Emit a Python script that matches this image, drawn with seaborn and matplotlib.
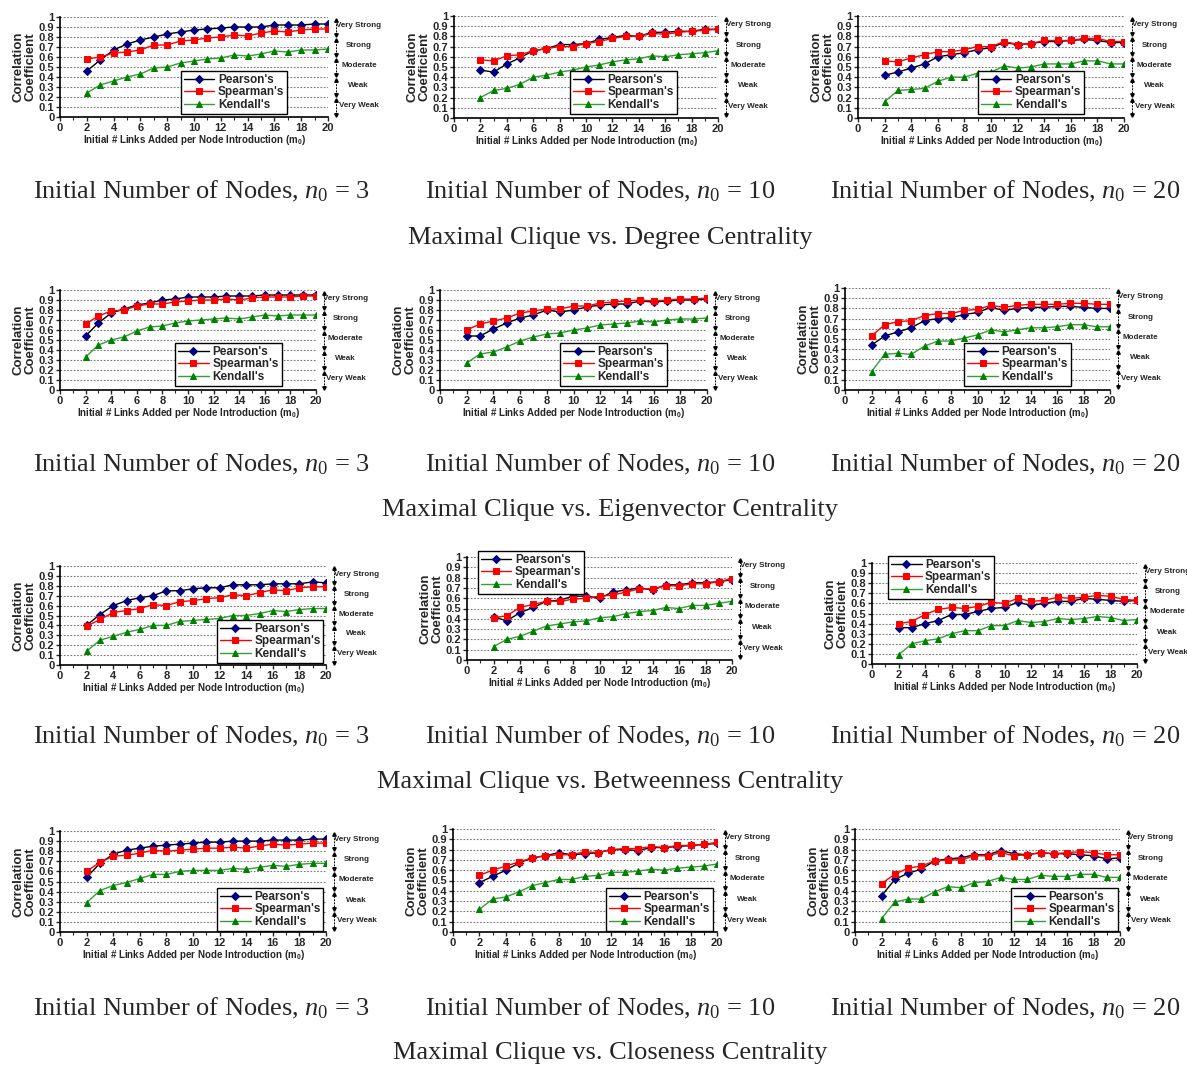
#!/usr/bin/env python3
"""
Maximal clique vs. centrality correlation panels (4 rows x 3 initial node counts)
"""

import matplotlib.pyplot as plt
import matplotlib.transforms as mtransforms
import seaborn as sns

sns.set_style("white")
plt.rcParams['font.family'] = ['Liberation Sans', 'DejaVu Sans']
plt.rcParams['mathtext.fontset'] = 'custom'
plt.rcParams['mathtext.rm'] = 'Liberation Serif'
plt.rcParams['mathtext.it'] = 'Liberation Serif:italic'
plt.rcParams['mathtext.bf'] = 'Liberation Sans:bold'

# ---- data ----
m0 = list(range(2, 21))
n0_values = [3, 10, 20]
centralities = ['Degree', 'Eigenvector', 'Betweenness', 'Closeness']
series_names = ["Pearson's", "Spearman's", "Kendall's"]
ytick_values = [0, 0.1, 0.2, 0.3, 0.4, 0.5, 0.6, 0.7, 0.8, 0.9, 1.0]
ytick_labels = ['0', '0.1', '0.2', '0.3', '0.4', '0.5', '0.6', '0.7', '0.8', '0.9', '1']
strength_labels = ['Very Weak', 'Weak', 'Moderate', 'Strong', 'Very Strong']
strength_bounds = [0.0, 0.2, 0.4, 0.6, 0.8, 1.0]

# Degree centrality
degree_n3_pearson = [0.46, 0.57, 0.67, 0.73, 0.77, 0.80, 0.83, 0.85, 0.87, 0.88, 0.89, 0.90, 0.90, 0.90, 0.92, 0.92, 0.92, 0.93, 0.93]
degree_n3_spearman = [0.58, 0.60, 0.64, 0.65, 0.67, 0.72, 0.72, 0.76, 0.77, 0.79, 0.80, 0.82, 0.81, 0.84, 0.86, 0.85, 0.87, 0.88, 0.88]
degree_n3_kendall = [0.24, 0.32, 0.36, 0.40, 0.43, 0.49, 0.50, 0.54, 0.56, 0.58, 0.59, 0.62, 0.61, 0.63, 0.66, 0.65, 0.67, 0.67, 0.68]
degree_n10_pearson = [0.47, 0.45, 0.53, 0.59, 0.66, 0.68, 0.72, 0.72, 0.73, 0.77, 0.79, 0.81, 0.80, 0.84, 0.84, 0.85, 0.85, 0.87, 0.87]
degree_n10_spearman = [0.57, 0.56, 0.61, 0.62, 0.66, 0.68, 0.70, 0.70, 0.73, 0.75, 0.78, 0.80, 0.80, 0.83, 0.82, 0.84, 0.85, 0.86, 0.87]
degree_n10_kendall = [0.20, 0.27, 0.29, 0.33, 0.40, 0.42, 0.45, 0.47, 0.50, 0.52, 0.55, 0.57, 0.58, 0.61, 0.60, 0.62, 0.63, 0.64, 0.66]
degree_n20_pearson = [0.42, 0.45, 0.49, 0.53, 0.60, 0.62, 0.64, 0.67, 0.69, 0.74, 0.72, 0.73, 0.75, 0.75, 0.76, 0.77, 0.76, 0.74, 0.74]
degree_n20_spearman = [0.56, 0.55, 0.59, 0.62, 0.65, 0.65, 0.67, 0.70, 0.70, 0.75, 0.72, 0.73, 0.76, 0.76, 0.76, 0.78, 0.78, 0.75, 0.75]
degree_n20_kendall = [0.16, 0.27, 0.28, 0.29, 0.36, 0.40, 0.40, 0.44, 0.45, 0.51, 0.49, 0.50, 0.53, 0.53, 0.53, 0.56, 0.56, 0.53, 0.53]

# Eigenvector centrality
eigen_n3_pearson = [0.54, 0.67, 0.77, 0.81, 0.85, 0.87, 0.90, 0.91, 0.93, 0.93, 0.93, 0.94, 0.94, 0.94, 0.95, 0.95, 0.95, 0.95, 0.95]
eigen_n3_spearman = [0.66, 0.74, 0.79, 0.80, 0.84, 0.86, 0.86, 0.88, 0.89, 0.90, 0.90, 0.91, 0.90, 0.92, 0.93, 0.93, 0.93, 0.94, 0.94]
eigen_n3_kendall = [0.33, 0.45, 0.50, 0.53, 0.59, 0.63, 0.64, 0.67, 0.69, 0.70, 0.71, 0.72, 0.71, 0.73, 0.75, 0.74, 0.75, 0.75, 0.75]
eigen_n10_pearson = [0.54, 0.54, 0.61, 0.67, 0.72, 0.75, 0.80, 0.78, 0.80, 0.83, 0.85, 0.86, 0.86, 0.89, 0.88, 0.89, 0.90, 0.90, 0.91]
eigen_n10_spearman = [0.60, 0.66, 0.69, 0.72, 0.77, 0.79, 0.81, 0.81, 0.84, 0.84, 0.87, 0.88, 0.89, 0.90, 0.89, 0.90, 0.91, 0.91, 0.92]
eigen_n10_kendall = [0.27, 0.36, 0.38, 0.43, 0.49, 0.53, 0.56, 0.57, 0.60, 0.62, 0.65, 0.66, 0.67, 0.69, 0.68, 0.70, 0.71, 0.71, 0.72]
eigen_n20_pearson = [0.44, 0.53, 0.57, 0.61, 0.68, 0.70, 0.71, 0.74, 0.76, 0.81, 0.78, 0.80, 0.81, 0.81, 0.82, 0.82, 0.81, 0.80, 0.80]
eigen_n20_spearman = [0.53, 0.64, 0.67, 0.68, 0.73, 0.75, 0.75, 0.78, 0.79, 0.83, 0.81, 0.83, 0.84, 0.84, 0.84, 0.85, 0.85, 0.84, 0.84]
eigen_n20_kendall = [0.18, 0.35, 0.36, 0.35, 0.43, 0.48, 0.48, 0.51, 0.54, 0.59, 0.57, 0.59, 0.61, 0.61, 0.62, 0.64, 0.64, 0.62, 0.62]

# Betweenness centrality
betw_n3_pearson = [0.40, 0.51, 0.60, 0.65, 0.68, 0.70, 0.75, 0.75, 0.77, 0.78, 0.78, 0.81, 0.81, 0.81, 0.82, 0.82, 0.82, 0.84, 0.83]
betw_n3_spearman = [0.39, 0.46, 0.53, 0.55, 0.57, 0.61, 0.60, 0.64, 0.65, 0.67, 0.68, 0.71, 0.70, 0.73, 0.76, 0.75, 0.78, 0.79, 0.79]
betw_n3_kendall = [0.14, 0.25, 0.29, 0.33, 0.36, 0.40, 0.40, 0.44, 0.45, 0.46, 0.47, 0.50, 0.50, 0.52, 0.55, 0.54, 0.56, 0.57, 0.57]
betw_n10_pearson = [0.42, 0.38, 0.46, 0.51, 0.57, 0.58, 0.62, 0.62, 0.60, 0.66, 0.68, 0.70, 0.68, 0.73, 0.73, 0.75, 0.75, 0.76, 0.78]
betw_n10_spearman = [0.41, 0.43, 0.51, 0.54, 0.57, 0.57, 0.59, 0.60, 0.62, 0.63, 0.66, 0.69, 0.69, 0.72, 0.72, 0.74, 0.74, 0.76, 0.79]
betw_n10_kendall = [0.13, 0.20, 0.23, 0.28, 0.33, 0.35, 0.37, 0.38, 0.41, 0.42, 0.45, 0.47, 0.48, 0.51, 0.50, 0.53, 0.53, 0.55, 0.57]
betw_n20_pearson = [0.36, 0.36, 0.40, 0.43, 0.49, 0.49, 0.52, 0.55, 0.56, 0.61, 0.58, 0.60, 0.62, 0.62, 0.65, 0.64, 0.63, 0.62, 0.63]
betw_n20_spearman = [0.40, 0.42, 0.49, 0.54, 0.56, 0.55, 0.57, 0.61, 0.60, 0.65, 0.62, 0.63, 0.66, 0.65, 0.66, 0.68, 0.67, 0.64, 0.63]
betw_n20_kendall = [0.09, 0.20, 0.23, 0.25, 0.30, 0.33, 0.33, 0.38, 0.38, 0.43, 0.41, 0.42, 0.45, 0.44, 0.45, 0.47, 0.46, 0.43, 0.44]

# Closeness centrality
close_n3_pearson = [0.54, 0.68, 0.77, 0.81, 0.83, 0.85, 0.86, 0.87, 0.88, 0.89, 0.89, 0.90, 0.90, 0.90, 0.91, 0.91, 0.91, 0.92, 0.92]
close_n3_spearman = [0.60, 0.69, 0.75, 0.76, 0.78, 0.81, 0.80, 0.81, 0.82, 0.83, 0.83, 0.84, 0.83, 0.85, 0.87, 0.86, 0.87, 0.88, 0.88]
close_n3_kendall = [0.29, 0.41, 0.46, 0.49, 0.53, 0.57, 0.57, 0.60, 0.61, 0.61, 0.61, 0.63, 0.62, 0.64, 0.66, 0.65, 0.67, 0.68, 0.68]
close_n10_pearson = [0.48, 0.54, 0.60, 0.67, 0.72, 0.74, 0.77, 0.75, 0.76, 0.77, 0.80, 0.80, 0.79, 0.82, 0.82, 0.83, 0.84, 0.85, 0.86]
close_n10_spearman = [0.55, 0.60, 0.64, 0.68, 0.72, 0.74, 0.75, 0.75, 0.78, 0.77, 0.80, 0.81, 0.81, 0.83, 0.82, 0.84, 0.84, 0.85, 0.87]
close_n10_kendall = [0.22, 0.32, 0.34, 0.39, 0.45, 0.48, 0.51, 0.51, 0.54, 0.55, 0.58, 0.58, 0.59, 0.61, 0.60, 0.62, 0.63, 0.64, 0.66]
close_n20_pearson = [0.35, 0.51, 0.57, 0.61, 0.69, 0.71, 0.72, 0.75, 0.75, 0.79, 0.76, 0.75, 0.77, 0.76, 0.76, 0.75, 0.74, 0.71, 0.72]
close_n20_spearman = [0.47, 0.56, 0.62, 0.64, 0.69, 0.70, 0.70, 0.74, 0.74, 0.77, 0.74, 0.75, 0.77, 0.76, 0.77, 0.78, 0.77, 0.75, 0.75]
close_n20_kendall = [0.13, 0.29, 0.32, 0.32, 0.39, 0.44, 0.43, 0.48, 0.49, 0.53, 0.51, 0.51, 0.55, 0.54, 0.54, 0.56, 0.56, 0.53, 0.53]

panel_data = [
    [(degree_n3_pearson, degree_n3_spearman, degree_n3_kendall),
     (degree_n10_pearson, degree_n10_spearman, degree_n10_kendall),
     (degree_n20_pearson, degree_n20_spearman, degree_n20_kendall)],
    [(eigen_n3_pearson, eigen_n3_spearman, eigen_n3_kendall),
     (eigen_n10_pearson, eigen_n10_spearman, eigen_n10_kendall),
     (eigen_n20_pearson, eigen_n20_spearman, eigen_n20_kendall)],
    [(betw_n3_pearson, betw_n3_spearman, betw_n3_kendall),
     (betw_n10_pearson, betw_n10_spearman, betw_n10_kendall),
     (betw_n20_pearson, betw_n20_spearman, betw_n20_kendall)],
    [(close_n3_pearson, close_n3_spearman, close_n3_kendall),
     (close_n10_pearson, close_n10_spearman, close_n10_kendall),
     (close_n20_pearson, close_n20_spearman, close_n20_kendall)],
]

# ---- layout (pixels: left, right, top, bottom of each plot area) ----
W, H = 1187, 1066
panel_boxes = [
    [(60, 328, 17, 117), (454, 718, 16, 118), (858, 1124, 16, 118)],
    [(60, 316, 290, 390), (440, 707, 290, 390), (845, 1110, 288, 390)],
    [(60, 326, 566, 665), (467, 732, 557, 660), (872, 1137, 563, 664)],
    [(60, 326, 831, 932), (453, 717, 829, 932), (855, 1120, 829, 932)],
]
legend_pos = [
    [('lower left', (0.45, 0.03)), ('lower left', (0.44, 0.04)), ('lower left', (0.45, 0.04))],
    [('lower left', (0.45, 0.04)), ('lower left', (0.45, 0.04)), ('lower left', (0.45, 0.04))],
    [('lower left', (0.59, 0.02)), ('upper left', (0.04, 1.06)), ('upper left', (0.06, 1.07))],
    [('lower left', (0.59, 0.01)), ('lower left', (0.58, 0.01)), ('lower left', (0.59, 0.01))],
]
caption_x = [201, 600, 1005]
caption_y = [191, 464, 736, 1008]
title_y = [238, 510, 782, 1053]

styles = [
    dict(color='black', marker='D', markersize=4, markerfacecolor='#000080', markeredgecolor='#000080'),
    dict(color='#ff0000', marker='s', markersize=5, markerfacecolor='#ff0000', markeredgecolor='#ff0000'),
    dict(color='#33a033', marker='^', markersize=5, markerfacecolor='#008000', markeredgecolor='#008000'),
]


def draw_panel(ax, series, loc, anchor):
    for name, values, st in zip(series_names, series, styles):
        sns.lineplot(x=m0, y=values, ax=ax, lw=1.0, label=name, **st)

    ax.set_xlim(0, 20)
    ax.set_ylim(0, 1)
    ax.set_xticks(range(0, 21, 2))
    ax.set_xticks(range(0, 21), minor=True)
    ax.set_yticks(ytick_values)
    ax.set_yticklabels(ytick_labels)
    ax.tick_params(axis='both', which='major', direction='out', length=3, width=1,
                   labelsize=8, pad=1, left=True, bottom=True)
    ax.tick_params(axis='x', which='minor', direction='out', length=2, width=0.8, bottom=True)
    for lab in ax.get_xticklabels() + ax.get_yticklabels():
        lab.set_fontweight('bold')

    ax.yaxis.grid(True, color='#777777', linestyle=(0, (1.5, 1.5)), linewidth=0.8)
    ax.xaxis.grid(False)
    sns.despine(ax=ax)
    for side in ['left', 'bottom']:
        ax.spines[side].set_color('black')
        ax.spines[side].set_linewidth(1.2)

    ax.set_ylabel('Correlation\nCoefficient', fontsize=9.5, fontweight='bold', labelpad=2,
                  linespacing=1.0)
    ax.set_xlabel(r'Initial # Links Added per Node Introduction (m$_\mathbf{0}$)',
                  fontsize=7, fontweight='bold', labelpad=0)

    # strength bands on the right
    trans = mtransforms.blended_transform_factory(ax.transAxes, ax.transData)
    for lo, hi, lab in zip(strength_bounds[:-1], strength_bounds[1:], strength_labels):
        ax.plot([1.03, 1.03], [lo + 0.02, hi - 0.02], transform=trans, clip_on=False,
                color='black', lw=0.7, ls=(0, (2, 1.2)))
        ax.plot([1.03], [hi - 0.025], transform=trans, clip_on=False, marker='^',
                ms=2.5, color='black', lw=0)
        ax.plot([1.03], [lo + 0.025], transform=trans, clip_on=False, marker='v',
                ms=2.5, color='black', lw=0)
        ax.text(1.115, (lo + hi) / 2 + 0.015, lab, transform=trans, ha='center', va='center',
                fontsize=5.8, fontweight='bold', clip_on=False)

    handles, labels = ax.get_legend_handles_labels()
    leg = ax.legend(handles[:3], labels[:3], loc=loc, bbox_to_anchor=anchor,
                    fancybox=False, framealpha=1, edgecolor='black', fontsize=8.5,
                    handlelength=2.6, borderpad=0.25, labelspacing=0.05,
                    handletextpad=0.3, borderaxespad=0)
    leg.get_frame().set_linewidth(1.0)
    for t in leg.get_texts():
        t.set_fontweight('bold')


fig = plt.figure(figsize=(W / 100, H / 100), dpi=100)

for r in range(4):
    for c in range(3):
        left, right, top, bottom = panel_boxes[r][c]
        ax = fig.add_axes([left / W, 1 - bottom / H, (right - left) / W, (bottom - top) / H])
        loc, anchor = legend_pos[r][c]
        draw_panel(ax, panel_data[r][c], loc, anchor)
        fig.text(caption_x[c] / W, 1 - caption_y[r] / H,
                 r'Initial Number of Nodes, $n_0$ = ' + str(n0_values[c]),
                 ha='center', va='center', fontsize=19, family='Liberation Serif')
    fig.text(610 / W, 1 - title_y[r] / H,
             'Maximal Clique vs. ' + centralities[r] + ' Centrality',
             ha='center', va='center', fontsize=19, family='Liberation Serif')

plt.savefig('out.png', dpi=100)
plt.close()
